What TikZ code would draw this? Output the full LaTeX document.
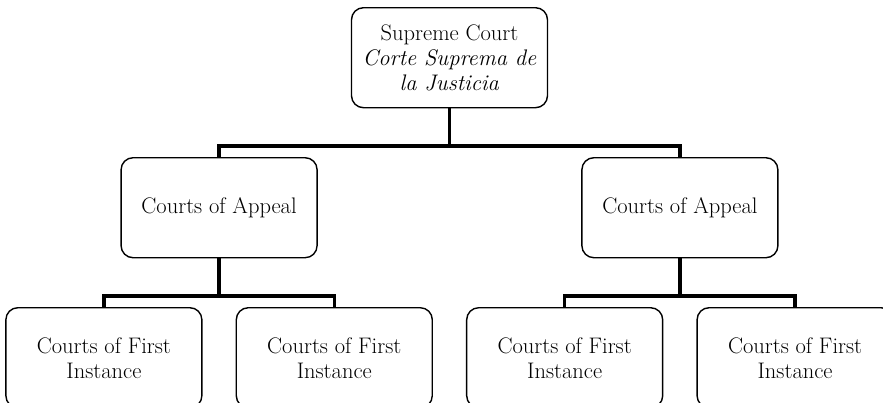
\documentclass[tikz,border=0pt]{standalone}
\usepackage{tikz}
\usepackage{tikz-qtree}
\newcommand{\courtFont}[0]{\fontsize{22.5}{25}\selectfont}

\begin{document}
\begin{tikzpicture}[x=1pt, y=1pt]
  \useasboundingbox (0,0) rectangle (883,-403);
  \clip (0,0) rectangle (883,-403);
  \tikzset{every tree node/.style={draw, rounded corners=12pt, line width=1.4pt,
      align=center, anchor=north, minimum width=196pt, minimum height=100pt, font=\courtFont},
    edge from parent/.style={draw, line width=3.5pt,
      edge from parent path={(\tikzparentnode.south) |- ([yshift=11pt]\tikzchildnode.north) -- (\tikzchildnode.north)}},
    level distance=150pt, sibling distance=33pt}
  \begin{scope}[shift={(449.5,-7)}]
  \Tree
  [.\node(supreme){Supreme Court\\\textit{Corte Suprema de}\\\textit{la Justicia}};
    [.\node(appealA){Courts of Appeal};
      \node(firstA){Courts of First\\Instance};
      \node(firstB){Courts of First\\Instance};
    ]
    [.\node(appealB){Courts of Appeal};
      \node(firstC){Courts of First\\Instance};
      \node(firstD){Courts of First\\Instance};
    ]
  ]
  \end{scope}
\end{tikzpicture}
\end{document}
